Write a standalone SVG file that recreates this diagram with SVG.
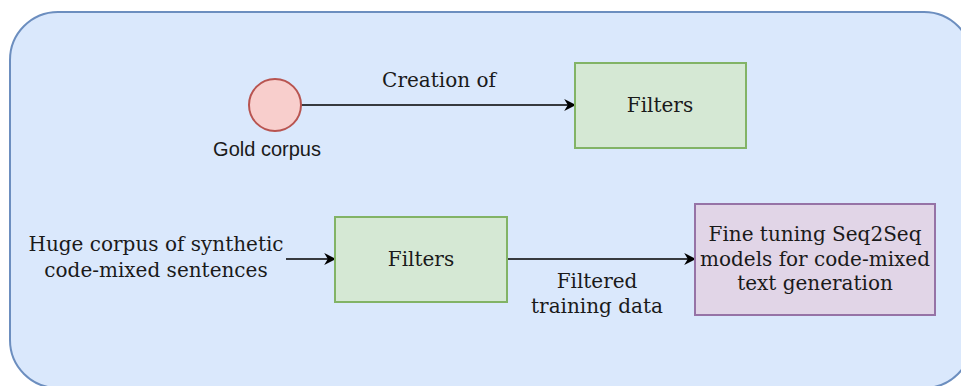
<svg xmlns="http://www.w3.org/2000/svg" width="961" height="386" viewBox="0 0 961 386">
  <defs>
    <marker id="arrow" viewBox="0 0 10 10" refX="9" refY="5" markerWidth="12" markerHeight="12" markerUnits="userSpaceOnUse" orient="auto">
      <path d="M0,0 L10,5 L0,10 L3,5 Z" fill="#000"/>
    </marker>
  </defs>
  <style>
    .lbl { font-family: "DejaVu Serif", serif; font-size: 20px; fill: #1a1a1a; text-anchor: middle; }
    .sans { font-family: "Liberation Sans", Arial, sans-serif; font-size: 20px; fill: #1a1a1a; text-anchor: middle; }
    .edge { stroke: #000; stroke-width: 1.6; fill: none; marker-end: url(#arrow); }
    .green { fill: #d5e8d4; stroke: #82b366; stroke-width: 2; }
  </style>
  <rect width="961" height="386" fill="#ffffff"/>
  <g id="container">
    <rect x="10" y="12" width="962" height="376" rx="48" ry="48" fill="#dae8fc" stroke="#6c8ebf" stroke-width="2"/>
  </g>
  <g id="connectors">
    <path class="edge" d="M301,105 L575,105"/>
    <text class="lbl" x="439" y="87">Creation of</text>
    <path class="edge" d="M286,259 L335,259"/>
    <path class="edge" d="M507,259 L695,259"/>
    <text class="lbl" x="597" y="288">Filtered</text>
    <text class="lbl" x="597" y="313">training data</text>
  </g>
  <g id="gold-corpus">
    <circle cx="275" cy="105" r="26" fill="#f8cecc" stroke="#b85450" stroke-width="2"/>
    <text class="sans" x="267" y="156">Gold corpus</text>
  </g>
  <g id="filters-top">
    <rect class="green" x="575" y="63" width="171" height="85"/>
    <text class="lbl" x="660" y="112">Filters</text>
  </g>
  <g id="synthetic-corpus">
    <text class="lbl" x="156" y="251">Huge corpus of synthetic</text>
    <text class="lbl" x="156" y="277">code-mixed sentences</text>
  </g>
  <g id="filters-bottom">
    <rect class="green" x="335" y="217" width="172" height="85"/>
    <text class="lbl" x="421" y="266">Filters</text>
  </g>
  <g id="seq2seq">
    <rect x="695" y="204" width="240" height="111" fill="#e1d5e7" stroke="#9673a6" stroke-width="2"/>
    <text class="lbl" x="815" y="241">Fine tuning Seq2Seq</text>
    <text class="lbl" x="815" y="266">models for code-mixed</text>
    <text class="lbl" x="815" y="290">text generation</text>
  </g>
</svg>
